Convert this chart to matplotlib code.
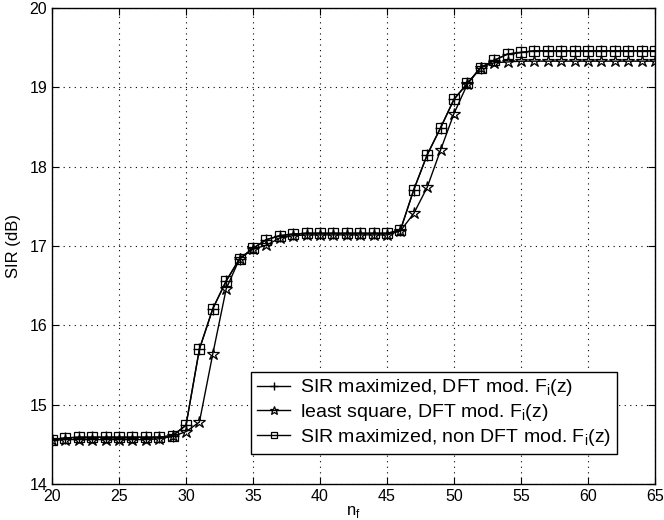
import matplotlib
matplotlib.use("Agg")
import matplotlib.pyplot as plt
import numpy as np

plt.rcParams['font.family'] = ['Liberation Sans', 'DejaVu Sans']
plt.rcParams['mathtext.fontset'] = 'custom'
plt.rcParams['mathtext.rm'] = 'Liberation Sans'

n_f = list(range(20, 66))

sir_nondft = [14.56, 14.58, 14.59, 14.59, 14.59, 14.59, 14.59, 14.59, 14.59, 14.61,
              14.74, 15.70, 16.21, 16.56, 16.84, 16.97, 17.08, 17.13, 17.15, 17.16,
              17.16, 17.16, 17.16, 17.16, 17.16, 17.16, 17.20, 17.71, 18.15, 18.49,
              18.85, 19.05, 19.25, 19.34, 19.42, 19.44, 19.46, 19.46, 19.46, 19.46,
              19.46, 19.46, 19.46, 19.46, 19.46, 19.46]

sir_dft = list(sir_nondft)

least_sq = [14.55, 14.56, 14.56, 14.56, 14.56, 14.56, 14.56, 14.56, 14.57, 14.60,
            14.66, 14.78, 15.64, 16.46, 16.84, 16.96, 17.01, 17.10, 17.13, 17.14,
            17.14, 17.14, 17.14, 17.14, 17.14, 17.14, 17.19, 17.41, 17.74, 18.21,
            18.67, 19.04, 19.25, 19.31, 19.32, 19.33, 19.33, 19.33, 19.33, 19.33,
            19.33, 19.33, 19.33, 19.33, 19.33, 19.33]

labels = ['SIR maximized, DFT mod. F$_\\mathrm{i}$(z)',
          'least square, DFT mod. F$_\\mathrm{i}$(z)',
          'SIR maximized, non DFT mod. F$_\\mathrm{i}$(z)']

fig = plt.figure(figsize=(6.64, 5.2), dpi=100)
ax = fig.add_axes([52/664, 36/520, 603/664, 476/520])

ax.plot(n_f, sir_dft, color='black', lw=1.0, marker='+', ms=8, mew=1.0, label=labels[0])
ax.plot(n_f, least_sq, color='black', lw=1.0, marker='*', ms=9, mew=0.9,
        mfc='none', label=labels[1])
ax.plot(n_f, sir_nondft, color='black', lw=1.0, marker='s', ms=7, mew=0.9,
        mfc='none', label=labels[2])

ax.set_xlim(20, 65)
ax.set_ylim(14, 20)
ax.set_xticks(np.arange(20, 66, 5))
ax.set_yticks(np.arange(14, 21, 1))
ax.grid(True, color='black', linestyle=(0, (1, 4)), linewidth=0.8)
ax.tick_params(direction='in', labelsize=11.5, length=5, top=True, right=True)
for s in ax.spines.values():
    s.set_linewidth(1.0)

ax.set_xlabel('n$_\\mathrm{f}$', fontsize=12, labelpad=0)
ax.set_ylabel('SIR (dB)', fontsize=12, labelpad=6)

leg = ax.legend(loc='lower right', bbox_to_anchor=(0.937, 0.063), borderaxespad=0,
                fontsize=14, frameon=True, fancybox=False, edgecolor='black',
                framealpha=1, handlelength=1.7, borderpad=0.3, labelspacing=0.2,
                handletextpad=0.5, markerscale=0.7)
leg.get_frame().set_linewidth(1.0)

fig.savefig('out.png', dpi=100)
